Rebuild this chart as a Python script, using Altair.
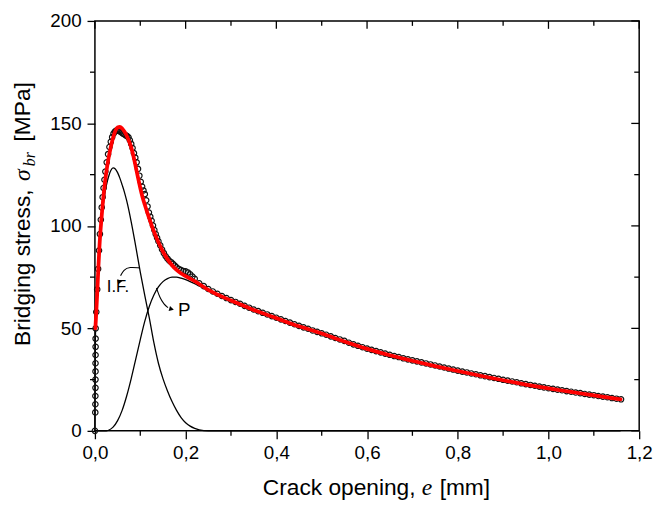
import altair as alt
import pandas as pd

W, H = 551, 415

# ---- fitted curve (red) ----
fit_e = [0.001, 0.003, 0.005, 0.0075, 0.010, 0.015, 0.020, 0.025, 0.030, 0.035, 0.040, 0.045,
         0.050, 0.055, 0.060, 0.065, 0.070, 0.075, 0.080, 0.085, 0.090, 0.095, 0.100, 0.105,
         0.110, 0.115, 0.120, 0.125, 0.130, 0.140, 0.150, 0.160, 0.170, 0.180, 0.190, 0.200,
         0.220, 0.250, 0.285, 0.300, 0.350, 0.400, 0.450, 0.500, 0.550, 0.600, 0.650, 0.700,
         0.750, 0.800, 0.850, 0.900, 0.950, 1.000, 1.050, 1.100, 1.159]
fit_s = [50, 58, 67, 79, 90, 105, 117, 126, 133, 138.5, 143, 146.3,
         148, 148.3, 147.5, 146, 144, 141.5, 138.3, 134, 128.8, 123.5, 118.5, 114,
         110.3, 106.8, 103.5, 100.3, 97.3, 92, 87.5, 83.8, 80.8, 78.5, 76.8, 75.5,
         73, 68.8, 65, 63.6, 59, 55, 51, 47.5, 43.6, 40, 36.9, 34.2,
         31.6, 29.2, 26.9, 24.7, 22.6, 20.7, 19, 17.3, 15.4]

# ---- I.F. component ----
if_e = [0.0, 0.001, 0.003, 0.005, 0.0075, 0.010, 0.015, 0.020, 0.025, 0.030, 0.035, 0.040,
        0.045, 0.050, 0.055, 0.060, 0.065, 0.070, 0.080, 0.090, 0.100, 0.110, 0.120, 0.130,
        0.140, 0.150, 0.160, 0.170, 0.180, 0.190, 0.200, 0.210, 0.220, 0.230, 0.250, 1.159]
if_s = [0, 45, 57, 66, 78, 92, 104, 113, 119.5, 124, 127, 128.3,
        127.8, 126, 123.3, 120, 116.5, 112.3, 102, 90, 77.5, 66, 55, 43,
        33, 25.5, 19.5, 14.3, 10, 6.5, 4, 2.3, 1.2, 0.5, 0, 0]

# ---- P component ----
p_e = [0.0, 0.025, 0.030, 0.040, 0.050, 0.060, 0.070, 0.080, 0.090, 0.100, 0.110, 0.120,
       0.130, 0.140, 0.150, 0.160, 0.170, 0.180, 0.190, 0.200, 0.210, 0.220, 0.250, 0.285,
       0.300, 0.350, 0.400, 0.450, 0.500, 0.550, 0.600, 0.650, 0.700, 0.750, 0.800, 0.850,
       0.900, 0.950, 1.000, 1.050, 1.100, 1.159]
p_s = [0, 0, 0.3, 1.8, 5, 10, 17, 25.5, 35, 44.5, 53.5, 60.8,
       66.3, 70.2, 72.8, 74.3, 75, 75, 74.5, 73.8, 72.8, 71.8, 68.6, 64.9,
       63.5, 58.9, 54.9, 50.9, 47.4, 43.5, 39.9, 36.8, 34.1, 31.5, 29.1, 26.8,
       24.6, 22.5, 20.6, 18.9, 17.2, 15.3]

# ---- experimental points ----
data_e = [0.0, 0.0008, 0.001, 0.001, 0.0012, 0.0012, 0.0013, 0.0013, 0.0014, 0.0015, 0.0015, 0.0016,
          0.003, 0.005, 0.007, 0.009, 0.011, 0.013, 0.015, 0.017, 0.019, 0.021, 0.023, 0.026,
          0.029, 0.032, 0.035, 0.038, 0.041, 0.044, 0.047, 0.050, 0.053, 0.056, 0.059, 0.062,
          0.065, 0.068, 0.071, 0.074, 0.077, 0.080, 0.083, 0.086, 0.089, 0.092, 0.095, 0.098,
          0.101, 0.104, 0.107, 0.110, 0.113, 0.116, 0.119, 0.122, 0.125, 0.128, 0.131, 0.134,
          0.137, 0.140, 0.144, 0.148, 0.152, 0.156, 0.160, 0.164, 0.168, 0.172, 0.176, 0.180,
          0.185, 0.190, 0.195, 0.200, 0.205, 0.210, 0.215, 0.220,
          0.23, 0.24, 0.25, 0.26, 0.27, 0.28, 0.29, 0.30, 0.31, 0.32, 0.33, 0.34, 0.35, 0.36,
          0.37, 0.38, 0.39, 0.40, 0.41, 0.42, 0.43, 0.44, 0.45, 0.46, 0.47, 0.48, 0.49, 0.50,
          0.51, 0.52, 0.53, 0.54, 0.55, 0.56, 0.57, 0.58, 0.59, 0.60, 0.61, 0.62, 0.63, 0.64,
          0.65, 0.66, 0.67, 0.68, 0.69, 0.70, 0.71, 0.72, 0.73, 0.74, 0.75, 0.76, 0.77, 0.78,
          0.79, 0.80, 0.81, 0.82, 0.83, 0.84, 0.85, 0.86, 0.87, 0.88, 0.89, 0.90, 0.91, 0.92,
          0.93, 0.94, 0.95, 0.96, 0.97, 0.98, 0.99, 1.00, 1.01, 1.02, 1.03, 1.04, 1.05, 1.06,
          1.07, 1.08, 1.09, 1.10, 1.11, 1.12, 1.13, 1.14, 1.15, 1.16]
data_s = [0, 9, 13, 17, 21, 25, 29, 33, 37, 41, 45, 50,
          58, 69, 79, 88, 96, 103, 109, 114, 118.5, 122.5, 126.5, 131,
          135, 138.5, 141, 143.3, 145, 146, 146.5, 146.5, 146.3, 146, 145.5, 145,
          144.6, 144.2, 143.8, 143.2, 141.8, 140, 138, 135.5, 133.3, 131, 127.8, 124.5,
          121.5, 119.2, 117.3, 115.5, 112.5, 109.5, 106.5, 104.5, 102.5, 100.2, 98, 96,
          94.2, 92.5, 90.5, 88.5, 86.7, 85.2, 84, 83, 82.3, 81.5, 80.6, 79.8,
          79, 78.4, 78, 77.8, 77.3, 76.4, 75.3, 74.2,
          72.0, 70.6, 69.2, 68.0, 66.9, 65.8, 64.8, 63.8, 62.9, 62.0, 61.0, 60.1, 59.2, 58.4,
          57.6, 56.8, 56.0, 55.2, 54.4, 53.6, 52.8, 52.0, 51.2, 50.5, 49.8, 49.0, 48.3, 47.6,
          46.9, 46.1, 45.3, 44.6, 43.9, 43.0, 42.2, 41.5, 40.8, 40.1, 39.5, 38.9, 38.3, 37.7,
          37.1, 36.5, 36.0, 35.4, 34.9, 34.4, 33.9, 33.4, 32.9, 32.4, 31.9, 31.4, 30.9, 30.4,
          29.9, 29.4, 28.9, 28.5, 28.0, 27.6, 27.1, 26.7, 26.2, 25.8, 25.4, 24.9, 24.5, 24.1,
          23.7, 23.2, 22.8, 22.4, 22.0, 21.6, 21.2, 20.8, 20.5, 20.1, 19.8, 19.4, 19.1, 18.7,
          18.4, 18.0, 17.7, 17.4, 17.0, 16.7, 16.4, 16.0, 15.7, 15.4]

# ---- annotations (data coordinates) ----
if_arrow_e = [0.0980, 0.0762, 0.0632, 0.0566]
if_arrow_s = [79.5, 80.0, 78.6, 75.7]
if_head = {"e": 0.0530, "s": 72.5}
p_arrow_e = [0.1357, 0.1431, 0.1524, 0.1611]
p_arrow_s = [69.7, 64.9, 61.7, 60.1]
p_head = {"e": 0.1690, "s": 59.4}
label_if = {"e": 0.0261, "s": 67.9, "t": "I.F."}
label_p = {"e": 0.183, "s": 55.9, "t": "P"}

x_major = [0, 0.2, 0.4, 0.6, 0.8, 1.0, 1.2]
x_minor = [0.1, 0.3, 0.5, 0.7, 0.9, 1.1]
y_major = [0, 50, 100, 150, 200]
y_minor = [25, 75, 125, 175]

SANS = "Liberation Sans"
SERIF = "Liberation Serif"

xs = alt.Scale(domain=[0, 1.2], nice=False, zero=False)
ys = alt.Scale(domain=[0, 200], nice=False, zero=False)

x_axis = alt.Axis(values=x_major, labelExpr="replace(format(datum.value, '.1f'), '.', ',')",
                  tickSize=8, tickWidth=1.3, tickColor="black", domain=False, grid=False,
                  labelFont=SANS, labelFontSize=19, labelColor="black", labelPadding=5,
                  title=None, labelFlush=False, labelOverlap=False)
y_axis = alt.Axis(values=y_major, format="d", tickSize=8, tickWidth=1.3, tickColor="black",
                  domain=False, grid=False, labelFont=SANS, labelFontSize=19,
                  labelColor="black", labelPadding=6, title=None, labelFlush=False,
                  labelOverlap=False)


def X(field="e"):
    return alt.X(f"{field}:Q", scale=xs, axis=x_axis)


def Y(field="s"):
    return alt.Y(f"{field}:Q", scale=ys, axis=y_axis)


fit_df = pd.DataFrame({"e": fit_e, "s": fit_s})
if_df = pd.DataFrame({"e": if_e, "s": if_s})
p_df = pd.DataFrame({"e": p_e, "s": p_s})
data_df = pd.DataFrame({"e": data_e, "s": data_s})

if_line = alt.Chart(if_df).mark_line(color="black", strokeWidth=1.3, interpolate="monotone").encode(
    x=X(), y=Y(), order="e:Q")
p_line = alt.Chart(p_df).mark_line(color="black", strokeWidth=1.3, interpolate="monotone").encode(
    x=X(), y=Y(), order="e:Q")
points = alt.Chart(data_df).mark_point(shape="circle", filled=False, color="#111111",
                                       size=30, strokeWidth=1.2, opacity=1).encode(x=X(), y=Y())
fit_line = alt.Chart(fit_df).mark_line(color="#ff0000", strokeWidth=3.8, interpolate="monotone",
                                       strokeCap="round").encode(x=X(), y=Y(), order="e:Q")

if_arrow_df = pd.DataFrame({"e": if_arrow_e, "s": if_arrow_s, "i": range(len(if_arrow_e))})
arrow_if = alt.Chart(if_arrow_df).mark_line(
    color="black", strokeWidth=1.1, interpolate="basis").encode(x=X(), y=Y(), order="i:Q")
arrow_p = alt.Chart(pd.DataFrame({"e": p_arrow_e, "s": p_arrow_s})).mark_line(
    color="black", strokeWidth=1.1, interpolate="basis").encode(x=X(), y=Y(), order="e:Q")
head_if = alt.Chart(pd.DataFrame([if_head])).mark_point(
    shape="triangle-down", filled=True, color="black", size=30, angle=20, opacity=1).encode(x=X(), y=Y())
head_p = alt.Chart(pd.DataFrame([p_head])).mark_point(
    shape="triangle-right", filled=True, color="black", size=30, angle=15, opacity=1).encode(x=X(), y=Y())
text_if = alt.Chart(pd.DataFrame([label_if])).mark_text(
    font=SANS, fontSize=17, align="left", baseline="alphabetic", color="black").encode(
    x=X(), y=Y(), text="t:N")
text_p = alt.Chart(pd.DataFrame([label_p])).mark_text(
    font=SANS, fontSize=19, align="left", baseline="alphabetic", color="black").encode(
    x=X(), y=Y(), text="t:N")

# minor / inside ticks
xmin_df = pd.DataFrame({"e": x_minor})
xmaj_df = pd.DataFrame({"e": x_major})
ymin_df = pd.DataFrame({"s": y_minor})
ymaj_df = pd.DataFrame({"s": y_major})
tick_style = dict(color="black", strokeWidth=1.3)
ticks = [
    alt.Chart(xmin_df).mark_rule(**tick_style).encode(x=X(), y=alt.value(H), y2=alt.value(H + 5)),
    alt.Chart(ymin_df).mark_rule(**tick_style).encode(y=Y(), x=alt.value(-5), x2=alt.value(0)),
    alt.Chart(xmaj_df).mark_rule(**tick_style).encode(x=X(), y=alt.value(0), y2=alt.value(8)),
    alt.Chart(xmin_df).mark_rule(**tick_style).encode(x=X(), y=alt.value(0), y2=alt.value(5)),
    alt.Chart(ymaj_df).mark_rule(**tick_style).encode(y=Y(), x=alt.value(W - 8), x2=alt.value(W)),
    alt.Chart(ymin_df).mark_rule(**tick_style).encode(y=Y(), x=alt.value(W - 5), x2=alt.value(W)),
]

one = pd.DataFrame({"k": [0]})


def txt(t, x, y, font=SANS, size=23, style="normal", angle=0):
    kw = dict(font=font, fontSize=size, fontStyle=style, align="left", baseline="alphabetic",
              color="black", text=t)
    if angle:
        kw["angle"] = angle
    return alt.Chart(one).mark_text(**kw).encode(x=alt.value(x), y=alt.value(y))


titles = [
    txt("Crack opening,", 170, 480),
    txt("e", 331, 480, font=SERIF, style="italic", size=24),
    txt("[mm]", 349, 480),
    txt("Bridging stress,", -66, 329, angle=270),
    txt("σ", -66, 162, font=SERIF, style="italic", size=24, angle=270),
    txt("br", -61, 147, font=SERIF, style="italic", size=16, angle=270),
    txt("[MPa]", -66, 122, angle=270),
]

chart = alt.layer(
    if_line, p_line, points, fit_line, arrow_if, arrow_p, head_if, head_p, text_if, text_p,
    *ticks, *titles
).properties(
    width=W, height=H,
    background="white",
    autosize=alt.AutoSizeParams(type="none"),
    padding={"left": 88, "top": 10, "right": 15, "bottom": 75},
).configure_view(stroke="black", strokeWidth=1.5)

chart.save("out.html", embed_options={"renderer": "svg", "actions": False})
